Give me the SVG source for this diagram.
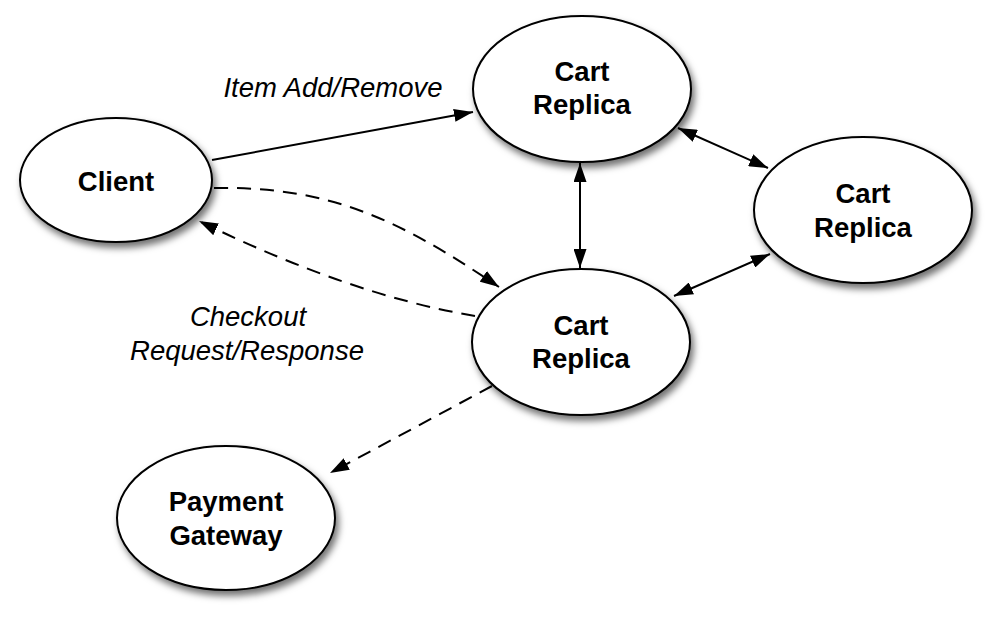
<svg xmlns="http://www.w3.org/2000/svg" width="994" height="626" viewBox="0 0 994 626">
<defs>
<filter id="sh" x="-20%" y="-20%" width="150%" height="160%">
<feDropShadow dx="3" dy="5" stdDeviation="3.5" flood-color="#000" flood-opacity="0.55"/>
</filter>
<marker id="ah" viewBox="0 0 19 13" refX="19" refY="6.5" markerWidth="19" markerHeight="13" markerUnits="userSpaceOnUse" orient="auto-start-reverse">
<path d="M0,0 L19,6.5 L0,13 Z" fill="#000"/>
</marker>
<style>
.node ellipse{fill:#fff;stroke:#000;stroke-width:2;filter:url(#sh)}
.node text{font-family:"Liberation Sans",Arial,sans-serif;font-weight:bold;font-size:27.5px;text-anchor:middle;fill:#000}
.lbl{font-family:"Liberation Sans",Arial,sans-serif;font-style:italic;font-size:27.5px;text-anchor:middle;fill:#000}
.c{fill:none;stroke:#000;stroke-width:2}
.d{stroke-dasharray:14 9}
</style>
</defs>
<rect width="994" height="626" fill="#fff"/>
<g id="connectors">
<line class="c" x1="212" y1="160" x2="473" y2="112" marker-end="url(#ah)"/>
<path class="c d" d="M214,188 C330,186 400,220 499,287" marker-end="url(#ah)"/>
<path class="c d" d="M475,316 Q350,295 199,221" marker-end="url(#ah)"/>
<line class="c" x1="580" y1="163" x2="580" y2="268" marker-start="url(#ah)" marker-end="url(#ah)"/>
<line class="c" x1="678" y1="128" x2="768" y2="168" marker-start="url(#ah)" marker-end="url(#ah)"/>
<line class="c" x1="674" y1="296" x2="770" y2="254" marker-start="url(#ah)" marker-end="url(#ah)"/>
<line class="c d" x1="492" y1="386" x2="330" y2="473" marker-end="url(#ah)"/>
</g>
<g id="client" class="node"><ellipse cx="116" cy="180" rx="96" ry="62"/><text x="116" y="191">Client</text></g>
<g id="cart-top" class="node"><ellipse cx="582" cy="89" rx="109" ry="73"/><text x="582" y="81">Cart</text><text x="582" y="114">Replica</text></g>
<g id="cart-right" class="node"><ellipse cx="863" cy="210" rx="109" ry="73"/><text x="863" y="203">Cart</text><text x="863" y="237">Replica</text></g>
<g id="cart-bottom" class="node"><ellipse cx="581" cy="342" rx="109" ry="73"/><text x="581" y="335">Cart</text><text x="581" y="368">Replica</text></g>
<g id="payment" class="node"><ellipse cx="226" cy="518" rx="109" ry="72"/><text x="226" y="511">Payment</text><text x="226" y="545">Gateway</text></g>
<text class="lbl" x="333" y="97">Item Add/Remove</text>
<text class="lbl" x="248" y="326">Checkout</text>
<text class="lbl" x="247" y="360">Request/Response</text>
</svg>
